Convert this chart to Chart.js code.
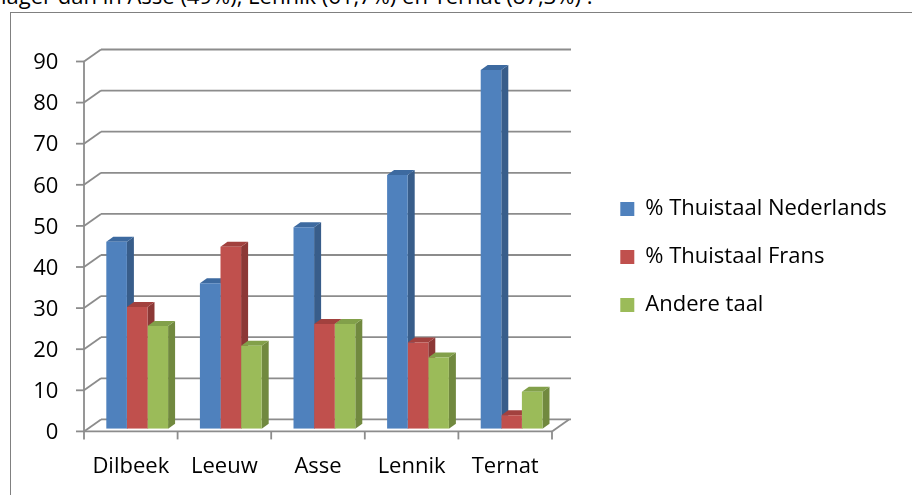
<!DOCTYPE html>
<html>
<head>
<meta charset="utf-8">
<script src="https://cdn.jsdelivr.net/npm/chart.js@4/dist/chart.umd.min.js"></script>
<style>
  html, body { margin: 0; padding: 0; background: #fff; overflow: hidden; }
  body { width: 912px; height: 495px; position: relative; font-family: "Open Sans", sans-serif; }
  #tekst { position: absolute; left: 1px; top: -16.5px; font-size: 22px; line-height: 22px; white-space: nowrap; color: #000; }
  #kader { position: absolute; left: 10px; top: 12px; width: 1000px; height: 600px; border: 1px solid #808080; }
  #grafiek { position: absolute; left: 0; top: 0; }
</style>
</head>
<body>
<div id="tekst">lager dan in Asse (49%), Lennik (61,7%) en Ternat (87,3%) .</div>
<div id="kader"></div>
<canvas id="grafiek" width="912" height="495"></canvas>
<script>
// Gegevens
const gemeenten = ["Dilbeek", "Leeuw", "Asse", "Lennik", "Ternat"];
const reeksen = ["% Thuistaal Nederlands", "% Thuistaal Frans", "Andere taal"];
const nederlands = [45.5, 35.4, 49, 61.7, 87.3];
const frans = [29.6, 44.3, 25.5, 21, 3.3];
const andere = [25, 20.2, 25.5, 17.3, 9];
const yMin = 0, yMax = 90, yStap = 10;

// Kleuren: voorkant, zijkant, bovenkant
const kleuren = [
  { voor: "#4f81bd", zij: "#385d8a", top: "#3d6aa0" },
  { voor: "#c0504d", zij: "#8c3836", top: "#a2413e" },
  { voor: "#9bbb59", zij: "#71893f", top: "#82a04a" }
];

// 3D-verschuivingen en plaats van het plotvlak (px)
const diep = { fx: 6.4, fy: 2.7, bx: 17, by: 12, barDx: 7, barDy: 5 };
const vlak = { left: 90.4, top: 58.8, bottom: 428.7, right: 558.4, padTop: 19, legendLeft: 594.3, legendWidth: 300 };
const rasterKleur = "#8c8c8c";
const lettertype = { family: "Open Sans", size: 22 };

function lijn(ctx, x1, y1, x2, y2) {
  ctx.beginPath();
  ctx.moveTo(x1, y1);
  ctx.lineTo(x2, y2);
  ctx.stroke();
}

// wanden, vloer, rasterlijnen en de zij- en bovenkant van de staven
const wanden = {
  id: "wanden",
  beforeDatasetsDraw(chart) {
    const { ctx, chartArea, scales: { x, y } } = chart;
    const links = chartArea.left - diep.fx;
    const rechts = chartArea.right - diep.fx;
    const y0 = y.getPixelForValue(yMin) + diep.fy;
    ctx.save();
    ctx.strokeStyle = rasterKleur;
    ctx.lineWidth = 1.8;
    y.ticks.forEach(t => {
      const yf = y.getPixelForValue(t.value) + diep.fy;
      lijn(ctx, links - 8, yf, links, yf);
      lijn(ctx, links, yf, links + diep.bx, yf - diep.by);
      lijn(ctx, links + diep.bx, yf - diep.by, rechts + diep.bx + 2, yf - diep.by);
    });
    lijn(ctx, links, y0, links, y.getPixelForValue(yMax) + diep.fy);
    lijn(ctx, links, y0, rechts, y0);
    lijn(ctx, rechts, y0, rechts + diep.bx, y0 - diep.by);
    const breedte = chartArea.width / gemeenten.length;
    for (let i = 0; i <= gemeenten.length; i++) {
      const xb = x.getPixelForValue(0) - breedte / 2 + i * breedte - diep.fx;
      lijn(ctx, xb, y0, xb, y0 + 8);
    }

    // zij- en bovenkant, in volgorde van de reeksen; de voorkant tekent Chart.js erover
    chart.data.datasets.forEach((ds, di) => {
      const k = kleuren[di];
      chart.getDatasetMeta(di).data.forEach(el => {
        const { x: bx, y: by, base, width } = el.getProps(["x", "y", "base", "width"], true);
        const r = bx + width / 2, l = bx - width / 2;
        ctx.fillStyle = k.zij;
        ctx.beginPath();
        ctx.moveTo(r, by);
        ctx.lineTo(r + diep.barDx, by - diep.barDy);
        ctx.lineTo(r + diep.barDx, base - diep.barDy);
        ctx.lineTo(r, base);
        ctx.closePath();
        ctx.fill();
        ctx.fillStyle = k.top;
        ctx.beginPath();
        ctx.moveTo(l, by);
        ctx.lineTo(l + diep.barDx, by - diep.barDy);
        ctx.lineTo(r + diep.barDx, by - diep.barDy);
        ctx.lineTo(r, by);
        ctx.closePath();
        ctx.fill();
      });
    });
    ctx.restore();
  }
};

const waarden = [nederlands, frans, andere];

new Chart(document.getElementById("grafiek"), {
  type: "bar",
  data: {
    labels: gemeenten,
    datasets: reeksen.map((naam, i) => ({
      label: naam,
      data: waarden[i],
      backgroundColor: kleuren[i].voor,
      borderWidth: 0,
      categoryPercentage: 0.66,
      barPercentage: 1,
      xAxisID: "x",
      yAxisID: "y"
    }))
  },
  options: {
    responsive: false,
    animation: false,
    layout: { padding: { left: 0, top: vlak.padTop, right: 912 - vlak.legendLeft - vlak.legendWidth, bottom: 0 } },
    plugins: {
      tooltip: { enabled: false },
      legend: {
        position: "right",
        align: "center",
        maxWidth: vlak.legendWidth,
        labels: {
          font: lettertype,
          color: "#000",
          boxWidth: 14,
          boxHeight: 14,
          padding: 26
        }
      }
    },
    scales: {
      x: {
        grid: { display: false, drawTicks: false },
        border: { display: false },
        ticks: { font: lettertype, color: "#000", padding: 25, labelOffset: -diep.fx, maxRotation: 0 },
        afterFit(s) { s.height = 495 - vlak.bottom; }
      },
      y: {
        min: yMin,
        max: yMax,
        grid: { display: false, drawTicks: false },
        border: { display: false },
        ticks: { stepSize: yStap, font: lettertype, color: "#000", padding: 32, labelOffset: diep.fy + 1.5 },
        afterFit(s) { s.width = vlak.left; }
      },
      boven: {
        type: "linear",
        position: "top",
        grid: { display: false, drawTicks: false },
        border: { display: false },
        ticks: { display: false },
        afterFit(s) { s.height = vlak.top - vlak.padTop; }
      },
      ruimte: {
        type: "linear",
        position: "right",
        grid: { display: false, drawTicks: false },
        border: { display: false },
        ticks: { display: false },
        afterFit(s) { s.width = vlak.legendLeft - vlak.right; }
      }
    }
  },
  plugins: [wanden]
});
</script>
</body>
</html>
